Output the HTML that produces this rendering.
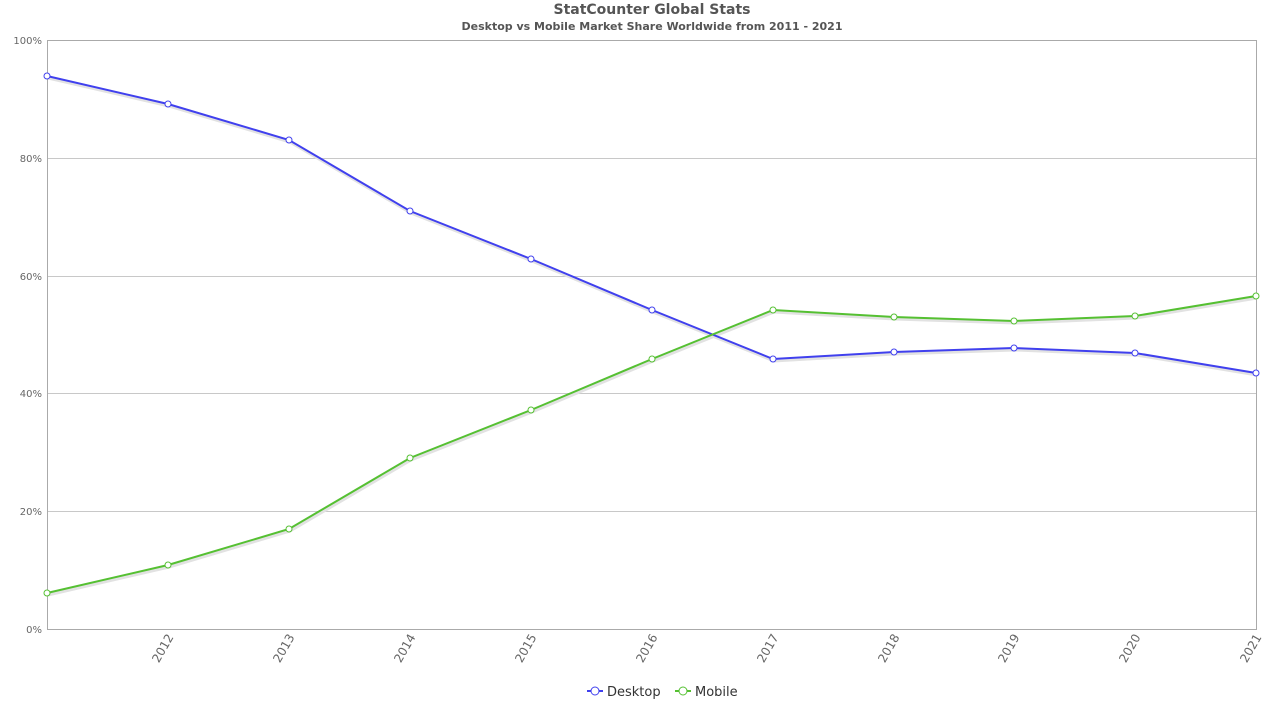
<!DOCTYPE html>
<html><head><meta charset="utf-8"><style>html,body{margin:0;padding:0;background:#fff}svg{display:block}</style></head>
<body>
<svg width="1280" height="720" xmlns="http://www.w3.org/2000/svg" font-family="DejaVu Sans, sans-serif">
<text x="652" y="14" text-anchor="middle" font-size="14" font-weight="bold" fill="#555">StatCounter Global Stats</text>
<text x="652" y="30" text-anchor="middle" font-size="11" font-weight="bold" fill="#555">Desktop vs Mobile Market Share Worldwide from 2011 - 2021</text>
<g stroke="#c8c8c8" stroke-width="1">
<line x1="47" y1="158.5" x2="1256" y2="158.5"/>
<line x1="47" y1="276.5" x2="1256" y2="276.5"/>
<line x1="47" y1="393.5" x2="1256" y2="393.5"/>
<line x1="47" y1="511.5" x2="1256" y2="511.5"/>
</g>
<rect x="47.5" y="40.5" width="1209" height="589" fill="none" stroke="#aaa"/>
<g font-size="10" fill="#666" text-anchor="end">
<text x="42" y="44">100%</text><text x="42" y="162">80%</text><text x="42" y="280">60%</text><text x="42" y="397">40%</text><text x="42" y="515">20%</text><text x="42" y="633">0%</text>
</g>
<g font-size="12" fill="#666" text-anchor="end">
<text transform="translate(174,637) rotate(-60)">2012</text>
<text transform="translate(295,637) rotate(-60)">2013</text>
<text transform="translate(416,637) rotate(-60)">2014</text>
<text transform="translate(537,637) rotate(-60)">2015</text>
<text transform="translate(658,637) rotate(-60)">2016</text>
<text transform="translate(779,637) rotate(-60)">2017</text>
<text transform="translate(900,637) rotate(-60)">2018</text>
<text transform="translate(1020,637) rotate(-60)">2019</text>
<text transform="translate(1141,637) rotate(-60)">2020</text>
<text transform="translate(1262,637) rotate(-60)">2021</text>
</g>
<polyline fill="none" stroke="#e2e2e2" stroke-width="3" points="48,78 169,106 290,142 411,213 532,261 653,312 774,361 895,354 1015,350 1136,355 1257,375"/>
<polyline fill="none" stroke="#e2e2e2" stroke-width="3" points="48,595 169,567 290,531 411,460 532,412 653,361 774,312 895,319 1015,323 1136,318 1257,298"/>
<polyline fill="none" stroke="#4040ee" stroke-width="2" points="47,76 168,104 289,140 410,211 531,259 652,310 773,359 894,352 1014,348 1135,353 1256,373"/>
<polyline fill="none" stroke="#55c032" stroke-width="2" points="47,593 168,565 289,529 410,458 531,410 652,359 773,310 894,317 1014,321 1135,316 1256,296"/>
<g fill="#fff" stroke="#4040ee" stroke-width="1">
<circle cx="47" cy="76" r="3"/><circle cx="168" cy="104" r="3"/><circle cx="289" cy="140" r="3"/><circle cx="410" cy="211" r="3"/><circle cx="531" cy="259" r="3"/><circle cx="652" cy="310" r="3"/><circle cx="773" cy="359" r="3"/><circle cx="894" cy="352" r="3"/><circle cx="1014" cy="348" r="3"/><circle cx="1135" cy="353" r="3"/><circle cx="1256" cy="373" r="3"/>
</g>
<g fill="#fff" stroke="#55c032" stroke-width="1">
<circle cx="47" cy="593" r="3"/><circle cx="168" cy="565" r="3"/><circle cx="289" cy="529" r="3"/><circle cx="410" cy="458" r="3"/><circle cx="531" cy="410" r="3"/><circle cx="652" cy="359" r="3"/><circle cx="773" cy="310" r="3"/><circle cx="894" cy="317" r="3"/><circle cx="1014" cy="321" r="3"/><circle cx="1135" cy="316" r="3"/><circle cx="1256" cy="296" r="3"/>
</g>
<line x1="587" y1="691" x2="603" y2="691" stroke="#4040ee" stroke-width="2"/>
<circle cx="595" cy="691" r="4" fill="#fff" stroke="#4040ee"/>
<text x="607" y="696" font-size="13" fill="#333">Desktop</text>
<line x1="675" y1="691" x2="691" y2="691" stroke="#55c032" stroke-width="2"/>
<circle cx="683" cy="691" r="4" fill="#fff" stroke="#55c032"/>
<text x="695" y="696" font-size="13" fill="#333">Mobile</text>
</svg>
</body></html>
